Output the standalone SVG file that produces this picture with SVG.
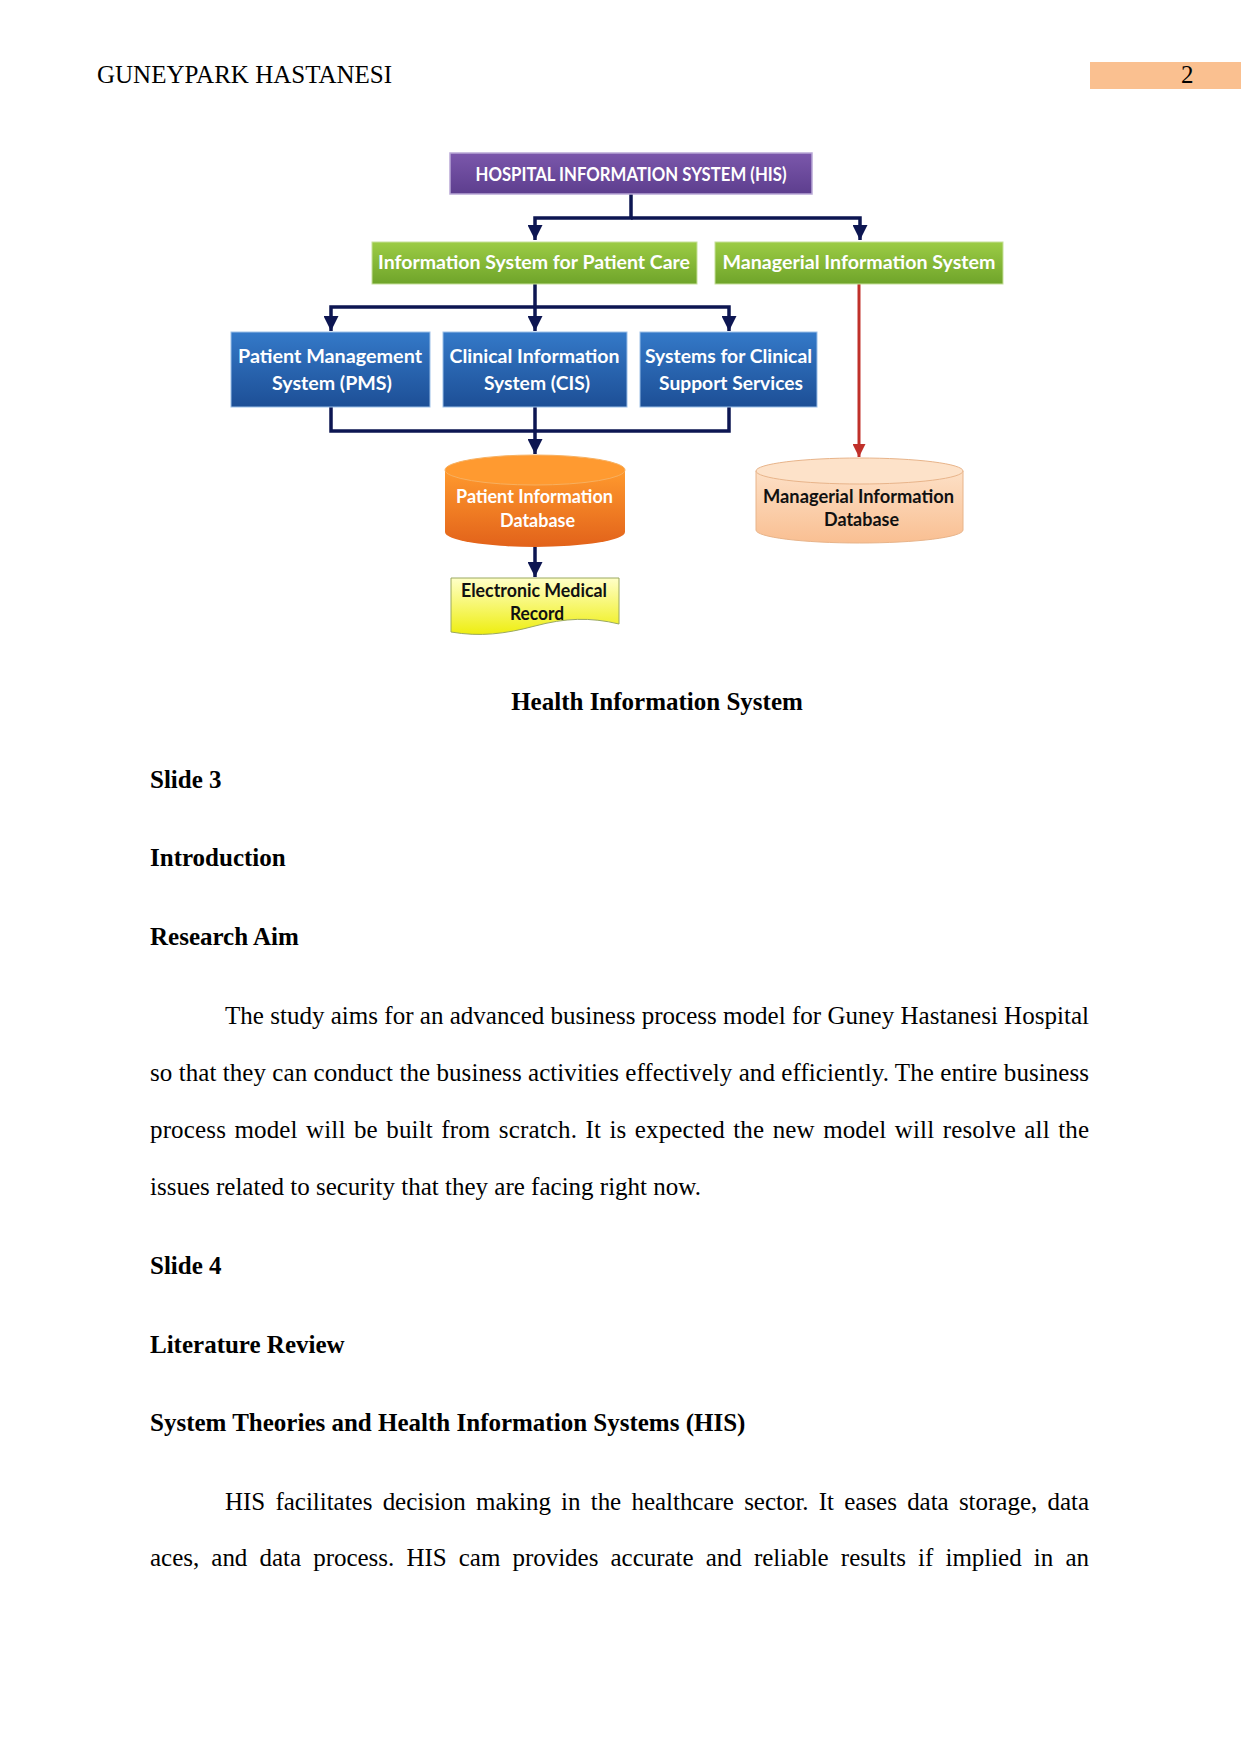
<svg xmlns="http://www.w3.org/2000/svg" width="1241" height="1754" viewBox="0 0 1241 1754">
<style>
.serif{font-family:"Liberation Serif","Times New Roman",serif;font-size:25px;fill:#000}
.b{font-weight:bold}
.lbl{font-family:Lato,"Open Sans","Liberation Sans",sans-serif;font-weight:bold;font-size:18.5px;text-anchor:middle}
.w{fill:#ffffff}
.k{fill:#111111}
.con{fill:none;stroke:#0d1652;stroke-width:3.5;stroke-linejoin:miter}
.red{fill:none;stroke:#c0302a;stroke-width:3}
</style>
<defs>
<linearGradient id="gPurple" x1="0" y1="0" x2="0" y2="1"><stop offset="0" stop-color="#7b57ab"/><stop offset="1" stop-color="#5d3e8e"/></linearGradient>
<linearGradient id="gGreen" x1="0" y1="0" x2="0" y2="1"><stop offset="0" stop-color="#9ccc45"/><stop offset="1" stop-color="#6fa42a"/></linearGradient>
<linearGradient id="gBlue" x1="0" y1="0" x2="0" y2="1"><stop offset="0" stop-color="#3479c8"/><stop offset="1" stop-color="#1d4f96"/></linearGradient>
<linearGradient id="gOrange" x1="0" y1="0" x2="0" y2="1"><stop offset="0" stop-color="#ff9a2e"/><stop offset="1" stop-color="#e2621a"/></linearGradient>
<linearGradient id="gPeach" x1="0" y1="0" x2="0" y2="1"><stop offset="0" stop-color="#fde0c6"/><stop offset="1" stop-color="#f9bf92"/></linearGradient>
<linearGradient id="gYellow" x1="0" y1="0" x2="0" y2="1"><stop offset="0" stop-color="#ffffc8"/><stop offset="1" stop-color="#eeee10"/></linearGradient>
<marker id="aNavy" viewBox="0 0 10 10" refX="10" refY="5" markerWidth="15" markerHeight="15" markerUnits="userSpaceOnUse" orient="auto"><path d="M0,0 L10,5 L0,10 Z" fill="#0d1652"/></marker>
<marker id="aRed" viewBox="0 0 10 10" refX="10" refY="5" markerWidth="13" markerHeight="13" markerUnits="userSpaceOnUse" orient="auto"><path d="M0,0 L10,5 L0,10 Z" fill="#c0302a"/></marker>
</defs>
<rect width="1241" height="1754" fill="#ffffff"/>

<g id="header">
<text class="serif" x="97" y="83">GUNEYPARK HASTANESI</text>
<rect x="1090" y="62" width="151" height="27" fill="#fac090"/>
<text class="serif" x="1181" y="83">2</text>
</g>

<g id="connectors">
<path class="con" d="M631,194 V218 H535 V240" marker-end="url(#aNavy)"/>
<path class="con" d="M631,218 H860 V240" marker-end="url(#aNavy)"/>
<path class="con" d="M535,284 V331" marker-end="url(#aNavy)"/>
<path class="con" d="M535,307 H331 V331" marker-end="url(#aNavy)"/>
<path class="con" d="M535,307 H729 V331" marker-end="url(#aNavy)"/>
<path class="con" d="M331,407 V431 H729 V407"/>
<path class="con" d="M535,407 V454" marker-end="url(#aNavy)"/>
<path class="con" d="M535,547 V577" marker-end="url(#aNavy)"/>
<path class="red" d="M859,284 V457" marker-end="url(#aRed)"/>
</g>

<g id="his">
<rect x="450" y="153" width="362" height="41" fill="url(#gPurple)" stroke="#b9a8d6" stroke-width="1.5"/>
<text class="lbl w" x="631" y="181" textLength="311" lengthAdjust="spacingAndGlyphs">HOSPITAL INFORMATION SYSTEM (HIS)</text>
</g>

<g id="ispc">
<rect x="372" y="242" width="325" height="42" fill="url(#gGreen)" stroke="#c6e09a" stroke-width="1"/>
<text class="lbl w" x="534" y="269" textLength="312" lengthAdjust="spacingAndGlyphs">Information System for Patient Care</text>
</g>

<g id="mis">
<rect x="715" y="242" width="288" height="42" fill="url(#gGreen)" stroke="#c6e09a" stroke-width="1"/>
<text class="lbl w" x="859" y="269" textLength="273" lengthAdjust="spacingAndGlyphs">Managerial Information System</text>
</g>

<g id="pms">
<rect x="231" y="332" width="199" height="75" fill="url(#gBlue)" stroke="#9cc0e8" stroke-width="1"/>
<text class="lbl w" x="330" y="363" textLength="184" lengthAdjust="spacingAndGlyphs">Patient Management</text>
<text class="lbl w" x="332" y="390" textLength="120" lengthAdjust="spacingAndGlyphs">System (PMS)</text>
</g>

<g id="cis">
<rect x="443" y="332" width="184" height="75" fill="url(#gBlue)" stroke="#9cc0e8" stroke-width="1"/>
<text class="lbl w" x="534.5" y="363" textLength="170" lengthAdjust="spacingAndGlyphs">Clinical Information</text>
<text class="lbl w" x="537" y="390" textLength="106" lengthAdjust="spacingAndGlyphs">System (CIS)</text>
</g>

<g id="scss">
<rect x="640" y="332" width="177" height="75" fill="url(#gBlue)" stroke="#9cc0e8" stroke-width="1"/>
<text class="lbl w" x="728.5" y="363" textLength="167" lengthAdjust="spacingAndGlyphs">Systems for Clinical</text>
<text class="lbl w" x="731" y="390" textLength="144" lengthAdjust="spacingAndGlyphs">Support Services</text>
</g>

<g id="pidb">
<path d="M445,470 V532 A90,15 0 0 0 625,532 V470 Z" fill="url(#gOrange)"/>
<ellipse cx="535" cy="470" rx="90" ry="15" fill="#ff9a30" stroke="#f7b060" stroke-width="1"/>
<text class="lbl w" x="534.5" y="503" textLength="157" lengthAdjust="spacingAndGlyphs">Patient Information</text>
<text class="lbl w" x="537.5" y="527" textLength="75" lengthAdjust="spacingAndGlyphs">Database</text>
</g>

<g id="midb">
<path d="M756,471 V530 A103.5,13 0 0 0 963,530 V471 Z" fill="url(#gPeach)" stroke="#e8b48a" stroke-width="1"/>
<ellipse cx="859.5" cy="471" rx="103.5" ry="13" fill="#fde2c9" stroke="#e8b48a" stroke-width="1"/>
<text class="lbl k" x="858.5" y="503" textLength="191" lengthAdjust="spacingAndGlyphs">Managerial Information</text>
<text class="lbl k" x="861.5" y="526" textLength="75" lengthAdjust="spacingAndGlyphs">Database</text>
</g>

<g id="emr">
<path d="M451,578 H619 V624 C590,617 565,618 535,626 C505,634 480,637 451,632 Z" fill="url(#gYellow)" stroke="#9aa860" stroke-width="1"/>
<text class="lbl k" x="534" y="597" textLength="146" lengthAdjust="spacingAndGlyphs">Electronic Medical</text>
<text class="lbl k" x="537" y="620" textLength="54" lengthAdjust="spacingAndGlyphs">Record</text>
</g>

<g id="body">
<text class="serif b" x="657" y="710" text-anchor="middle">Health Information System</text>
<text class="serif b" x="150" y="788">Slide 3</text>
<text class="serif b" x="150" y="866">Introduction</text>
<text class="serif b" x="150" y="945">Research Aim</text>
<text class="serif" x="225" y="1024" textLength="864" lengthAdjust="spacing">The study aims for an advanced business process model for Guney Hastanesi Hospital</text>
<text class="serif" x="150" y="1081" textLength="939" lengthAdjust="spacing">so that they can conduct the business activities effectively and efficiently. The entire business</text>
<text class="serif" x="150" y="1138" textLength="939" lengthAdjust="spacing" word-spacing="2">process model will be built from scratch. It is expected the new model will resolve all the</text>
<text class="serif" x="150" y="1195">issues related to security that they are facing right now.</text>
<text class="serif b" x="150" y="1274">Slide 4</text>
<text class="serif b" x="150" y="1353">Literature Review</text>
<text class="serif b" x="150" y="1431">System Theories and Health Information Systems (HIS)</text>
<text class="serif" x="225" y="1510" textLength="864" lengthAdjust="spacing" word-spacing="4">HIS facilitates decision making in the healthcare sector. It eases data storage, data</text>
<text class="serif" x="150" y="1566" textLength="939" lengthAdjust="spacing" word-spacing="6">aces, and data process. HIS cam provides accurate and reliable results if implied in an</text>
</g>
</svg>
